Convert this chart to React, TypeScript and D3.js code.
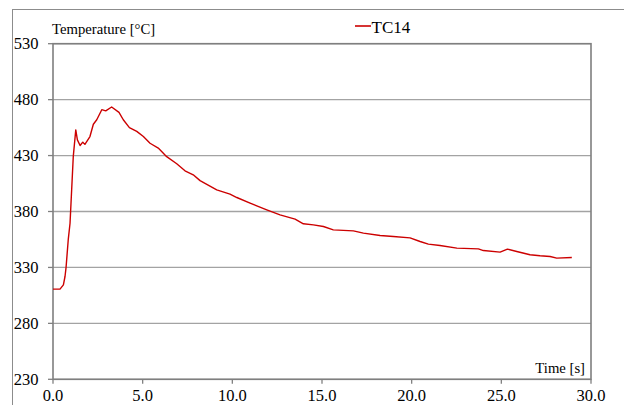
import React from "react";
import * as d3 from "d3";

const timeS: number[] = [
  0, 0.39, 0.58, 0.67, 0.73, 0.85, 0.95, 1.13, 1.27, 1.36, 1.51, 1.66, 1.78,
  2.06, 2.25, 2.44, 2.72, 2.94, 3.27, 3.68, 3.92, 4.26, 4.67, 5.04, 5.41,
  5.87, 6.34, 6.9, 7.36, 7.82, 8.2, 9.13, 9.87, 10.25, 10.99, 11.92, 12.66,
  13.5, 13.96, 14.52, 15.08, 15.63, 16.75, 17.31, 18.24, 18.98, 19.91, 20.47,
  20.93, 21.58, 22.52, 23.72, 24.0, 24.93, 25.34, 25.86, 26.6, 27.16, 27.72,
  28.09, 28.93,
];
const tc14: number[] = [
  310.6, 310.6, 314.4, 321.9, 330.3, 354.8, 369.5, 429, 453, 444, 439, 442,
  440, 447, 458, 462, 471, 470, 473.4, 468.6, 462, 455, 451.6, 447, 441,
  436.7, 429, 422.7, 416.4, 412.8, 407.6, 399.4, 395.6, 392.5, 387.5, 381.5,
  377, 373.2, 369, 368, 366.6, 363.6, 362.7, 360.7, 358.5, 357.6, 356.4,
  353.2, 350.8, 349.6, 347.3, 346.6, 345.1, 343.7, 346.4, 344.2, 341.3,
  340.4, 339.8, 338.3, 338.9,
];
const yTicks: number[] = [230, 280, 330, 380, 430, 480, 530];
const xTicks: number[] = [0, 5, 10, 15, 20, 25, 30];
const seriesName = "TC14";
const yTitle = "Temperature [°C]";
const xTitle = "Time [s]";

const W = 624;
const H = 405;
const L = 53;
const R = 591;
const T = 43.7;
const B = 379.3;
const FONT = "Liberation Serif, Times New Roman, DejaVu Serif, serif";

export default function App() {
  const x = d3.scaleLinear().domain([0, 30]).range([L, R]);
  const y = d3.scaleLinear().domain([230, 530]).range([B, T]);
  const pts: [number, number][] = timeS.map((t, i) => [t, tc14[i]]);
  const line = d3
    .line<[number, number]>()
    .x((d) => x(d[0]))
    .y((d) => y(d[1]));
  const ts = { fontFamily: FONT };
  return (
    <svg
      width={W}
      height={H}
      style={{ position: "absolute", left: 0, top: 0, background: "#fff", fontFamily: FONT }}
    >
      <rect x={0} y={0} width={W} height={H} fill="#fff" />
      <rect x={12.5} y={9.5} width={800} height={600} fill="none" stroke="#8c8c8c" strokeWidth={1} />
      {yTicks.map((v) => (
        <g key={"y" + v}>
          <line x1={L} x2={R} y1={y(v)} y2={y(v)} stroke="#a3a3a3" strokeWidth={1.3} />
          <line x1={L - 5} x2={L} y1={y(v)} y2={y(v)} stroke="#808080" strokeWidth={1.3} />
          <text x={38.5} y={y(v)} dy="0.35em" textAnchor="end" fontSize={16.5} fill="#000" style={ts}>
            {v}
          </text>
        </g>
      ))}
      {xTicks.map((v) => (
        <g key={"x" + v}>
          <line x1={x(v)} x2={x(v)} y1={B} y2={B + 4.5} stroke="#808080" strokeWidth={1.3} />
          <text x={x(v)} y={401} textAnchor="middle" fontSize={16.5} fill="#000" style={ts}>
            {v.toFixed(1)}
          </text>
        </g>
      ))}
      <rect x={L} y={T} width={R - L} height={B - T} fill="none" stroke="#7f7f7f" strokeWidth={1.6} />
      <path d={line(pts) || ""} fill="none" stroke="#cc0000" strokeWidth={1.4} strokeLinejoin="round" />
      <text x={52} y={34} fontSize={14.7} fill="#000" style={ts}>
        {yTitle}
      </text>
      <text x={585} y={373} textAnchor="end" fontSize={14.7} fill="#000" style={ts}>
        {xTitle}
      </text>
      <line x1={355} x2={371} y1={26} y2={26} stroke="#cc0000" strokeWidth={1.6} />
      <text x={371.5} y={32.5} fontSize={17} fill="#000" style={ts}>
        {seriesName}
      </text>
    </svg>
  );
}
